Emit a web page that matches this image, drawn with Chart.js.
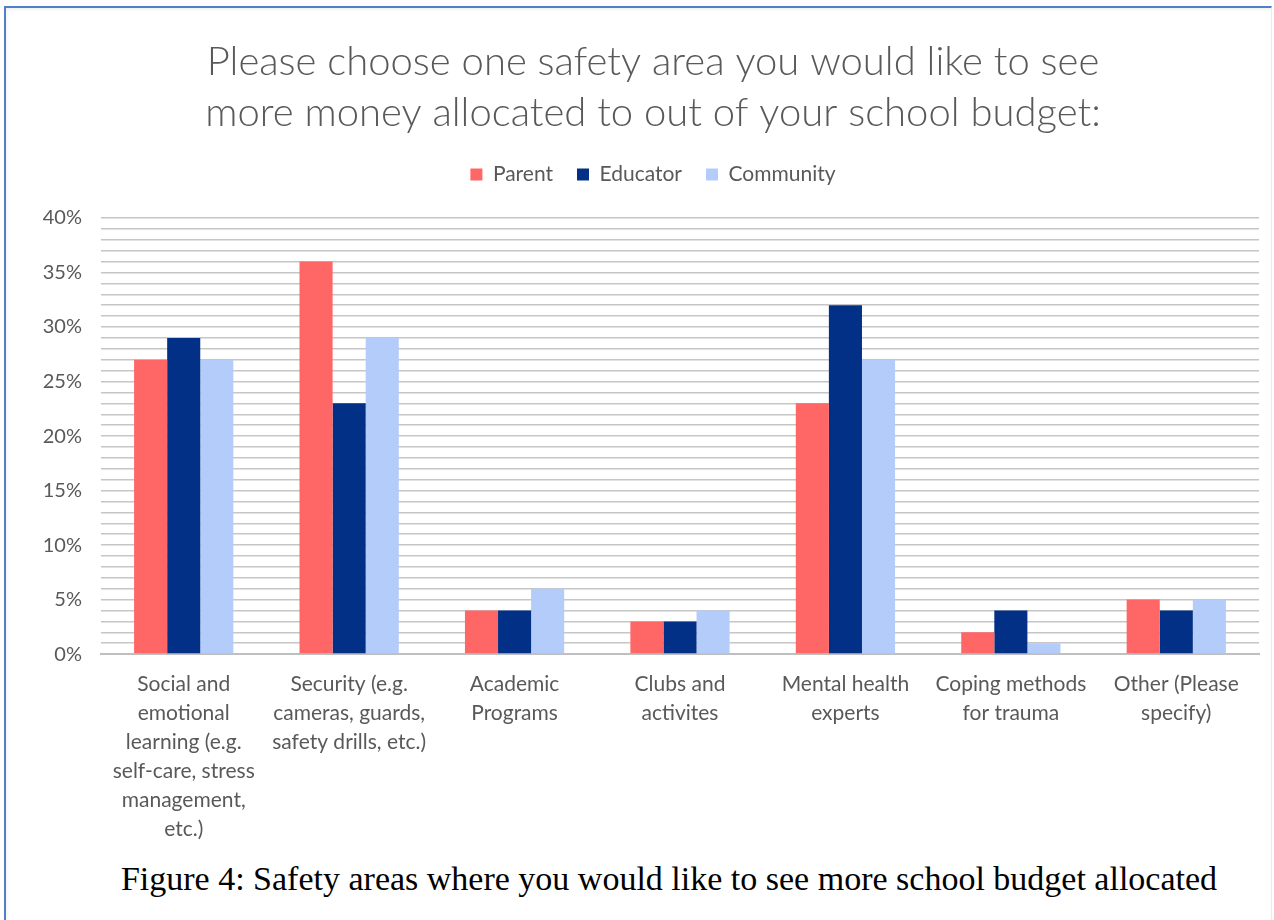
<!DOCTYPE html>
<html>
<head>
<meta charset="utf-8">
<script src="https://cdn.jsdelivr.net/npm/chart.js@4/dist/chart.umd.min.js"></script>
<style>
  html, body { margin: 0; padding: 0; background: #fff; overflow: hidden; width: 1274px; height: 920px; }
  #frame { position: absolute; left: 4px; top: 6px; width: 1268px; height: 920px;
           border-left: 2px solid #4f81c7; border-top: 2px solid #4f81c7;
           border-right: 1px solid #ececec; box-sizing: border-box;
           box-shadow: inset 1px 2px 3px rgba(0,0,0,0.06); }
  #chart { position: absolute; left: 0; top: 0; }
  #caption { position: absolute; left: 40px; width: 1258px; top: 860px; text-align: center;
             font-family: "Liberation Serif", serif; font-size: 34px; color: #000; }
</style>
</head>
<body>
<div id="frame"></div>
<canvas id="chart" width="1306" height="860"></canvas>
<div id="caption">Figure 4: Safety areas where you would like to see more school budget allocated</div>
<script>
// Survey answers, percent of respondents in each group
const categories = [
  ["Social and", "emotional", "learning (e.g.", "self-care, stress", "management,", "etc.)"],
  ["Security (e.g.", "cameras, guards,", "safety drills, etc.)"],
  ["Academic", "Programs"],
  ["Clubs and", "activites"],
  ["Mental health", "experts"],
  ["Coping methods", "for trauma"],
  ["Other (Please", "specify)"]
];
const parentValues    = [27, 36, 4, 3, 23, 2, 5];
const educatorValues  = [29, 23, 4, 3, 32, 4, 4];
const communityValues = [27, 29, 6, 4, 27, 1, 5];
const titleLines = ["Please choose one safety area you would like to see",
                    "more money allocated to out of your school budget:"];

const grey = "#595959";

new Chart(document.getElementById("chart"), {
  type: "bar",
  data: {
    labels: categories,
    datasets: [
      { label: "Parent",    data: parentValues,    backgroundColor: "#ff6666" },
      { label: "Educator",  data: educatorValues,  backgroundColor: "#033087" },
      { label: "Community", data: communityValues, backgroundColor: "#b4ccfa" }
    ]
  },
  options: {
    responsive: false,
    animation: false,
    categoryPercentage: 0.6,
    barPercentage: 1.0,
    layout: { padding: 0 },
    plugins: {
      title: {
        display: true,
        text: titleLines,
        color: grey,
        font: { family: "Lato", size: 40, weight: 300, lineHeight: 1.275 },
        padding: { top: 37, bottom: 1 }
      },
      // empty subtitle used as a spacer between the legend and the plot
      subtitle: {
        display: true,
        text: "",
        weight: 500,
        font: { size: 1, lineHeight: 1 },
        padding: { top: 22, bottom: 0 }
      },
      legend: {
        display: true,
        labels: {
          color: grey,
          font: { family: "Lato", size: 21 },
          boxWidth: 12, boxHeight: 12,
          padding: 24
        }
      },
      tooltip: { enabled: false }
    },
    scales: {
      x: {
        grid: { display: false, drawTicks: false },
        border: { color: "#bfbfbf", width: 2 },
        ticks: {
          color: grey,
          font: { family: "Lato", size: 21, lineHeight: 1.38 },
          padding: 16,
          maxRotation: 0, autoSkip: false
        }
      },
      y: {
        min: 0, max: 40,
        afterFit: (scale) => { scale.width = 101; },
        grid: { color: "#c6c6c6", lineWidth: 1.5, drawTicks: false },
        border: { display: false },
        ticks: {
          stepSize: 1, autoSkip: false,
          color: grey,
          font: { family: "Lato", size: 20 },
          padding: 19,
          callback: (v) => (v % 5 === 0 ? v + "%" : "")
        }
      },
      // blank right-hand margin so the titles centre where the figure does
      yRight: {
        position: "right",
        afterFit: (scale) => { scale.width = 47; },
        grid: { display: false, drawTicks: false },
        border: { display: false },
        ticks: { display: false }
      }
    }
  }
});
</script>
</body>
</html>
